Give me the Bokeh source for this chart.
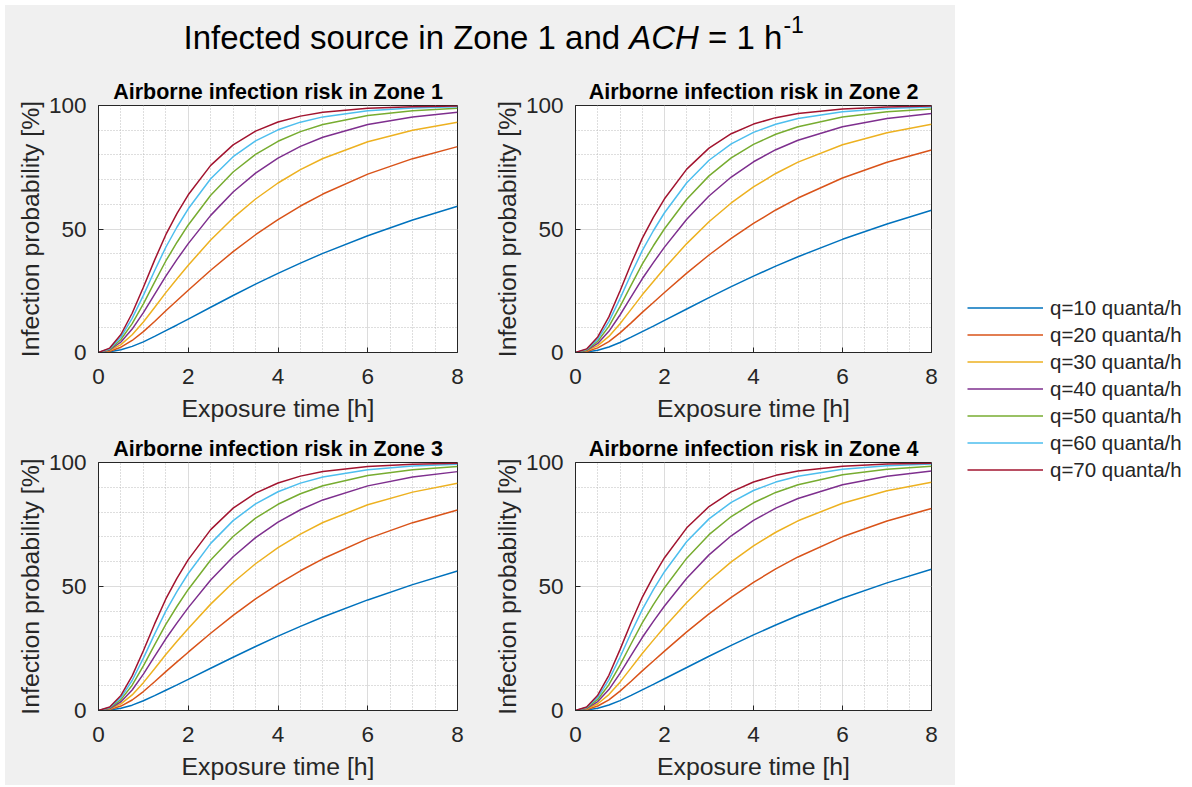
from bokeh.plotting import figure
from bokeh.models import Range1d, FixedTicker, Label, Legend, LegendItem, Spacer
from bokeh.layouts import row, column
from bokeh.embed import file_html
from bokeh.resources import INLINE

# ---------------- data ----------------
t_hours = [0, 0.25, 0.5, 0.75, 1, 1.25, 1.5, 1.75, 2, 2.5, 3, 3.5, 4, 4.5, 5, 6, 7, 8]

q_labels = ["q=10 quanta/h", "q=20 quanta/h", "q=30 quanta/h", "q=40 quanta/h",
            "q=50 quanta/h", "q=60 quanta/h", "q=70 quanta/h"]

zone_titles = ["Airborne infection risk in Zone 1", "Airborne infection risk in Zone 2",
               "Airborne infection risk in Zone 3", "Airborne infection risk in Zone 4"]

x_ticks = [0, 2, 4, 6, 8]
y_ticks = [0, 50, 100]

# Zone 1
z1_q10 = [0, 0.26, 1.08, 2.47, 4.32, 6.51, 8.84, 11.15, 13.53, 18.33, 23.08, 27.67, 32.05, 36.20, 40.12, 47.29, 53.61, 59.18]
z1_q20 = [0, 0.51, 2.15, 4.87, 8.45, 12.57, 16.90, 21.06, 25.22, 33.30, 40.83, 47.68, 53.82, 59.30, 64.15, 72.21, 78.48, 83.34]
z1_q30 = [0, 0.77, 3.21, 7.21, 12.38, 18.25, 24.25, 29.86, 35.34, 45.53, 54.49, 62.15, 68.62, 74.03, 78.53, 85.35, 90.02, 93.20]
z1_q40 = [0, 1.02, 4.25, 9.47, 16.14, 23.54, 30.94, 37.68, 44.08, 55.52, 64.99, 72.62, 78.68, 83.43, 87.14, 92.28, 95.37, 97.22]
z1_q50 = [0, 1.28, 5.27, 11.68, 19.72, 28.48, 37.05, 44.64, 51.64, 63.67, 73.07, 80.20, 85.51, 89.43, 92.30, 95.93, 97.85, 98.87]
z1_q60 = [0, 1.53, 6.28, 13.82, 23.13, 33.09, 42.61, 50.81, 58.18, 70.33, 79.28, 85.68, 90.15, 93.26, 95.39, 97.85, 99.00, 99.54]
z1_q70 = [0, 1.79, 7.28, 15.90, 26.40, 37.40, 47.69, 56.30, 63.84, 75.77, 84.06, 89.64, 93.31, 95.70, 97.24, 98.87, 99.54, 99.81]

# Zone 2
z2_q10 = [0, 0.21, 0.94, 2.23, 4.06, 6.20, 8.48, 10.70, 12.99, 17.62, 22.21, 26.66, 30.91, 34.96, 38.78, 45.82, 52.05, 57.58]
z2_q20 = [0, 0.42, 1.86, 4.40, 7.93, 12.00, 16.24, 20.25, 24.28, 32.13, 39.48, 46.20, 52.26, 57.70, 62.53, 70.64, 77.01, 82.01]
z2_q30 = [0, 0.63, 2.77, 6.52, 11.63, 17.45, 23.34, 28.78, 34.12, 44.09, 52.92, 60.54, 67.02, 72.48, 77.06, 84.09, 88.98, 92.37]
z2_q40 = [0, 0.84, 3.67, 8.57, 15.18, 22.54, 29.84, 36.40, 42.66, 53.94, 63.37, 71.05, 77.22, 82.10, 85.95, 91.38, 94.72, 96.76]
z2_q50 = [0, 1.05, 4.56, 10.57, 18.57, 27.30, 35.78, 43.21, 50.11, 62.05, 71.51, 78.77, 84.25, 88.36, 91.40, 95.33, 97.46, 98.63]
z2_q60 = [0, 1.26, 5.43, 12.52, 21.79, 31.78, 41.22, 49.29, 56.58, 68.74, 77.83, 84.43, 89.12, 92.43, 94.74, 97.46, 98.78, 99.42]
z2_q70 = [0, 1.46, 6.30, 14.42, 24.89, 35.95, 46.21, 54.72, 62.22, 74.25, 82.75, 88.58, 92.48, 95.08, 96.78, 98.63, 99.42, 99.75]

# Zone 3
z3_q10 = [0, 0.20, 0.90, 2.15, 3.91, 5.99, 8.18, 10.33, 12.54, 17.03, 21.49, 25.82, 29.97, 33.92, 37.68, 44.59, 50.75, 56.23]
z3_q20 = [0, 0.40, 1.79, 4.24, 7.65, 11.59, 15.69, 19.59, 23.51, 31.16, 38.36, 44.97, 50.95, 56.34, 61.17, 69.29, 75.74, 80.84]
z3_q30 = [0, 0.61, 2.66, 6.29, 11.23, 16.87, 22.59, 27.89, 33.10, 42.89, 51.61, 59.17, 65.65, 71.15, 75.79, 82.98, 88.06, 91.61]
z3_q40 = [0, 0.81, 3.53, 8.27, 14.66, 21.81, 28.92, 35.34, 41.49, 52.62, 62.00, 69.71, 75.95, 80.94, 84.91, 90.57, 94.12, 96.32]
z3_q50 = [0, 1.01, 4.38, 10.21, 17.96, 26.45, 34.74, 42.03, 48.82, 60.69, 70.17, 77.54, 83.15, 87.40, 90.60, 94.78, 97.10, 98.40]
z3_q60 = [0, 1.21, 5.22, 12.09, 21.10, 30.82, 40.07, 48.01, 55.24, 67.38, 76.57, 83.34, 88.20, 91.68, 94.14, 97.10, 98.57, 99.30]
z3_q70 = [0, 1.41, 6.05, 13.94, 24.11, 34.91, 44.98, 53.39, 60.85, 72.94, 81.61, 87.64, 91.74, 94.50, 96.35, 98.40, 99.30, 99.69]

# Zone 4
z4_q10 = [0, 0.21, 0.92, 2.20, 3.98, 6.10, 8.34, 10.53, 12.79, 17.35, 21.88, 26.27, 30.48, 34.49, 38.28, 45.26, 51.46, 56.97]
z4_q20 = [0, 0.41, 1.82, 4.32, 7.80, 11.82, 15.99, 19.95, 23.93, 31.69, 38.97, 45.64, 51.67, 57.08, 61.91, 70.03, 76.44, 81.48]
z4_q30 = [0, 0.62, 2.72, 6.42, 11.44, 17.18, 23.00, 28.38, 33.66, 43.54, 52.33, 59.92, 66.40, 71.88, 76.49, 83.59, 88.57, 92.03]
z4_q40 = [0, 0.82, 3.60, 8.43, 14.94, 22.21, 29.42, 35.92, 42.13, 53.34, 62.75, 70.45, 76.64, 81.58, 85.49, 91.02, 94.45, 96.57]
z4_q50 = [0, 1.03, 4.46, 10.41, 18.28, 26.92, 35.31, 42.67, 49.52, 61.43, 70.90, 78.22, 83.76, 87.93, 91.04, 95.08, 97.30, 98.53]
z4_q60 = [0, 1.24, 5.32, 12.33, 21.47, 31.34, 40.70, 48.71, 55.97, 68.12, 77.26, 83.94, 88.71, 92.10, 94.47, 97.30, 98.69, 99.37]
z4_q70 = [0, 1.44, 6.16, 14.19, 24.54, 35.47, 45.65, 54.11, 61.60, 73.66, 82.24, 88.16, 92.15, 94.82, 96.59, 98.53, 99.37, 99.72]

# ---------------- styles ----------------
colors = ["#0072BD", "#D95319", "#EDB120", "#7E2F8E", "#77AC30", "#4DBEEE", "#A2142F"]
GREY = "#F0F0F0"
AX = "#262626"
FONT = "Liberation Sans"

zones = [
    [z1_q10, z1_q20, z1_q30, z1_q40, z1_q50, z1_q60, z1_q70],
    [z2_q10, z2_q20, z2_q30, z2_q40, z2_q50, z2_q60, z2_q70],
    [z3_q10, z3_q20, z3_q30, z3_q40, z3_q50, z3_q60, z3_q70],
    [z4_q10, z4_q20, z4_q30, z4_q40, z4_q50, z4_q60, z4_q70],
]


def make_panel(title, series, width, height, bl, br, bt, bb):
    p = figure(width=width, height=height, x_range=Range1d(0, 8), y_range=Range1d(0, 100),
               output_backend="svg", toolbar_location=None,
               min_border_left=bl, min_border_right=br, min_border_top=bt, min_border_bottom=bb,
               background_fill_color="white", border_fill_color=GREY,
               outline_line_color=AX, outline_line_width=1)
    p.title.text = title
    p.title.align = "center"
    p.title.text_font = FONT
    p.title.text_font_size = "21.5px"
    p.title.text_font_style = "bold"
    p.title.text_color = "black"
    p.title.standoff = 4

    xt = FixedTicker(ticks=x_ticks, minor_ticks=[0.5, 1, 1.5, 2.5, 3, 3.5, 4.5, 5, 5.5, 6.5, 7, 7.5])
    yt = FixedTicker(ticks=y_ticks, minor_ticks=[10, 20, 30, 40, 60, 70, 80, 90])
    p.xaxis.ticker = xt
    p.yaxis.ticker = yt
    p.xgrid.ticker = xt
    p.ygrid.ticker = yt

    for ax in (p.xaxis, p.yaxis):
        ax.axis_line_color = AX
        ax.major_tick_line_color = AX
        ax.major_tick_in = 5
        ax.major_tick_out = 0
        ax.minor_tick_line_color = None
        ax.major_label_text_font = FONT
        ax.major_label_text_font_size = "22.5px"
        ax.major_label_text_color = AX
        ax.axis_label_text_font = FONT
        ax.axis_label_text_font_size = "24.8px"
        ax.axis_label_text_font_style = "normal"
        ax.axis_label_text_color = AX
    p.xaxis.axis_label = "Exposure time [h]"
    p.yaxis.axis_label = "Infection probability [%]"
    p.xaxis.major_label_standoff = 12
    p.xaxis.axis_label_standoff = 8
    p.yaxis.major_label_standoff = 8
    p.yaxis.axis_label_standoff = 2

    for g in (p.xgrid, p.ygrid):
        g.grid_line_color = "#DCDCDC"
        g.grid_line_width = 1
        g.minor_grid_line_color = "#BDBDBD"
        g.minor_grid_line_dash = "1 2"
        g.minor_grid_line_width = 1

    for ys, c in zip(series, colors):
        p.line(t_hours, ys, line_color=c, line_width=1.5)
    return p


f1 = make_panel(zone_titles[0], zones[0], 485, 358, 93, 33, 35, 76)
f2 = make_panel(zone_titles[1], zones[1], 465, 358, 82, 24, 35, 76)
f3 = make_panel(zone_titles[2], zones[2], 485, 357, 93, 33, 34, 75)
f4 = make_panel(zone_titles[3], zones[3], 465, 357, 82, 24, 34, 75)

# ---------------- main title ----------------
tf = figure(width=950, height=65, x_range=Range1d(0, 950), y_range=Range1d(0, 65), title=None,
            output_backend="svg", toolbar_location=None, x_axis_type=None, y_axis_type=None,
            min_border=0, background_fill_color=GREY, border_fill_color=GREY,
            outline_line_color=None)
tf.grid.visible = False
S = 33
base = 33
x0 = 178
common = dict(y_units="screen", x_units="screen", text_font=FONT, text_color="black",
              text_baseline="alphabetic")
tf.add_layout(Label(x=x0, y=base, text="Infected source in Zone 1 and",
                    text_font_size=f"{S}px", **common))
tf.add_layout(Label(x=x0 + 13.508 * S, y=base, text="ACH", text_font_style="italic",
                    text_font_size=f"{S}px", **common))
tf.add_layout(Label(x=x0 + 15.897 * S, y=base, text="= 1 h",
                    text_font_size=f"{S}px", **common))
tf.add_layout(Label(x=x0 + 18.149 * S + 1, y=base + 13, text="-1",
                    text_font_size="23px", **common))

# ---------------- legend panel ----------------
lf = figure(width=230, height=780, x_range=Range1d(100, 101), y_range=Range1d(100, 101), title=None,
            output_backend="svg", toolbar_location=None, x_axis_type=None, y_axis_type=None,
            min_border=0, background_fill_color="white", border_fill_color="white",
            outline_line_color=None)
lf.grid.visible = False
items = []
for ys, c, lab in zip(zones[0], colors, q_labels):
    r = lf.line(t_hours, ys, line_color=c, line_width=1.5)
    items.append(LegendItem(label=lab, renderers=[r]))
legend = Legend(items=items, location=(12, 302), border_line_color=None,
                background_fill_alpha=0, padding=0, margin=0, spacing=0,
                glyph_width=76, glyph_height=27, label_height=27, label_standoff=7,
                label_text_font=FONT, label_text_font_size="20.5px", label_text_color=AX)
lf.add_layout(legend)

main = column(tf, row(f1, f2, styles={"background-color": GREY}),
              row(f3, f4, styles={"background-color": GREY}),
              styles={"background-color": GREY})
layout = column(Spacer(width=5, height=5), row(Spacer(width=5, height=5), main, lf))

open("out.html", "w").write(file_html(layout, INLINE))
